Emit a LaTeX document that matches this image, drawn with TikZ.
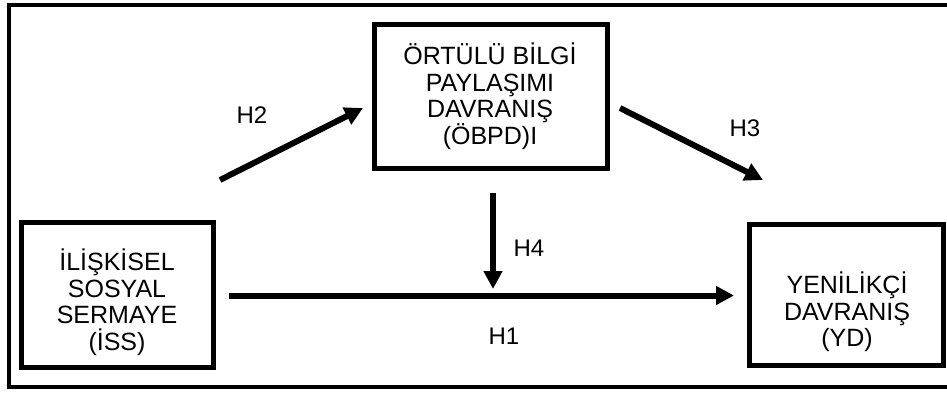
\documentclass[tikz,border=0pt]{standalone}
\usepackage{fontspec}
\setmainfont{Liberation Sans}
\usetikzlibrary{arrows.meta}
\begin{document}
\begin{tikzpicture}[x=1pt,y=-1pt,
  box/.style={draw, line width=5pt, inner sep=0pt},
  txt/.style={align=center, inner sep=0pt, font=\fontsize{25}{26.5}\selectfont},
  lbl/.style={inner sep=0pt, font=\fontsize{24}{26}\selectfont},
  arr/.style={line width=6pt, -{Triangle[length=18pt,width=18pt]}}]
\useasboundingbox (0,0) rectangle (947,392);
% outer frame
\draw[line width=3.5pt] (955,5) -- (9,5) -- (9,387) -- (955,387);
% boxes
\node[box, minimum width=233pt, minimum height=144pt] (obpd) at (490.5,96) {};
\node[box, minimum width=192pt, minimum height=145pt] (iss) at (117,294.5) {};
\node[box, minimum width=194pt, minimum height=141pt] (yd) at (846,294.5) {};
% box texts
\node[txt] (obpdt) at (490,96) {ÖRTÜLÜ BİLGİ\\PAYLAŞIMI\\DAVRANIŞ\\(ÖBPD)I};
\node[txt] (isst) at (117,302) {İLİŞKİSEL\\SOSYAL\\SERMAYE\\(İSS)};
\node[txt] (ydt) at (847,312) {YENİLİKÇİ\\DAVRANIŞ\\(YD)};
% arrow ends
\coordinate (h2s) at (220,180);
\coordinate (h2e) at (363,108);
\coordinate (h3s) at (620,108);
\coordinate (h3e) at (763,180);
\coordinate (h4s) at (493,193);
\coordinate (h4e) at (493,289);
\coordinate (h1s) at (229,295.5);
\coordinate (h1e) at (734,295.5);
\draw[arr] (h2s) -- (h2e);
\draw[arr] (h3s) -- (h3e);
\draw[arr] (h4s) -- (h4e);
\draw[arr] (h1s) -- (h1e);
% labels
\node[lbl] (l2) at (252,115) {H2};
\node[lbl] (l3) at (745,128.5) {H3};
\node[lbl] (l4) at (529,248.5) {H4};
\node[lbl] (l1) at (504,336) {H1};
\end{tikzpicture}
\end{document}
